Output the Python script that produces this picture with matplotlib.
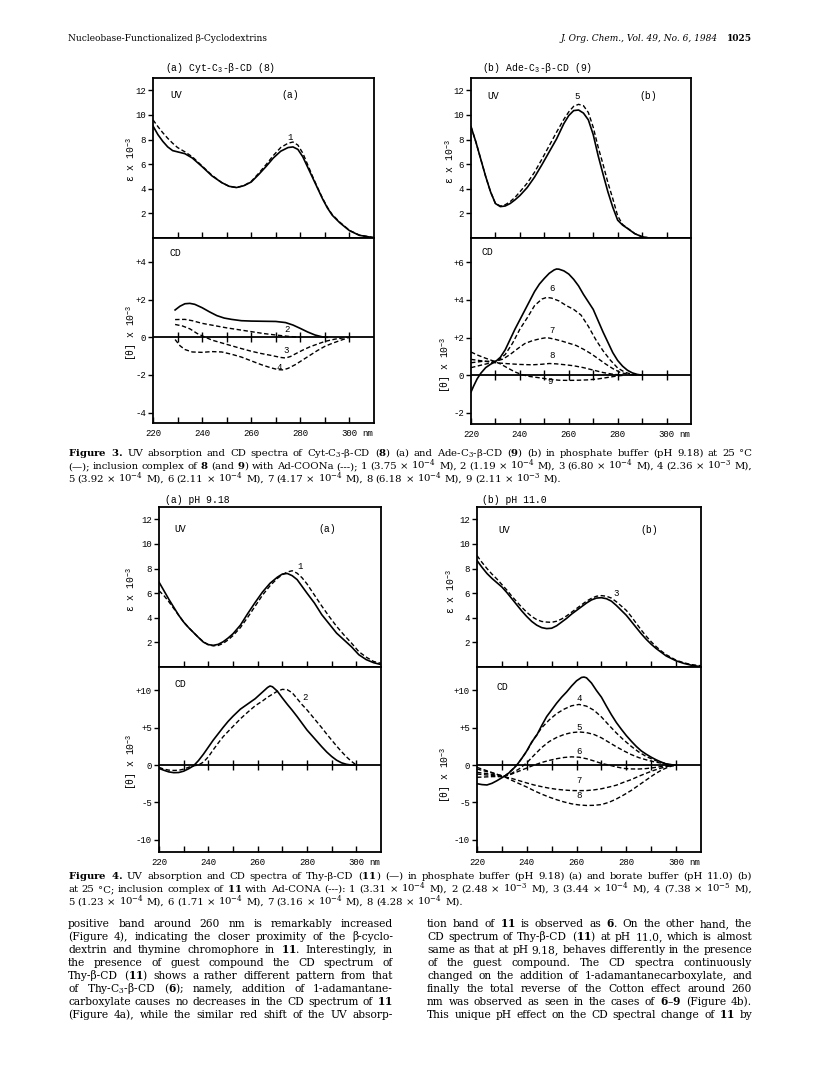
import matplotlib.pyplot as plt

W, H = 821, 1069
MONO = ['Liberation Mono', 'DejaVu Sans Mono']
SERIF = ['DejaVu Serif']

plt.rcParams['mathtext.fontset'] = 'custom'
plt.rcParams['mathtext.rm'] = 'DejaVu Serif'
plt.rcParams['mathtext.it'] = 'DejaVu Serif:italic'
plt.rcParams['mathtext.bf'] = 'DejaVu Serif:bold'
plt.rcParams['mathtext.tt'] = 'Liberation Mono'

# ---------------- data ----------------
# Figure 3a: Cyt-C3-beta-CD (8)
cyt_uv_nm = [220, 222, 224, 226, 228, 230, 233, 236, 240, 244, 248, 251, 254, 257, 260, 263, 266,
             269, 272, 275, 277, 279, 281, 283, 285, 287, 289, 291, 293, 296, 300, 304, 310]
cyt_uv_free = [9.1, 8.4, 7.85, 7.4, 7.1, 7.0, 6.85, 6.5, 5.8, 5.05, 4.5, 4.2, 4.1, 4.25, 4.55, 5.15, 5.8,
               6.5, 7.05, 7.35, 7.4, 7.2, 6.6, 5.75, 4.9, 4.05, 3.2, 2.45, 1.85, 1.25, 0.6, 0.22, 0.02]
cyt_uv_1 = [9.6, 9.05, 8.55, 8.1, 7.7, 7.35, 7.0, 6.6, 5.85, 5.1, 4.5, 4.2, 4.1, 4.25, 4.6, 5.25, 5.95,
            6.7, 7.35, 7.7, 7.8, 7.55, 6.9, 5.95, 5.0, 4.1, 3.25, 2.5, 1.9, 1.3, 0.62, 0.24, 0.03]

cyt_cd_free_nm = [229, 231, 233, 235, 237, 240, 243, 246, 249, 252, 256, 260, 265, 270, 274, 277,
                  280, 283, 286, 289, 291]
cyt_cd_free = [1.45, 1.65, 1.78, 1.8, 1.75, 1.57, 1.35, 1.15, 1.02, 0.95, 0.88, 0.86, 0.85, 0.84, 0.78,
               0.65, 0.47, 0.28, 0.12, 0.02, 0.0]
cyt_cd_2_nm = [229, 233, 236, 240, 245, 250, 255, 260, 265, 270, 275, 280]
cyt_cd_2 = [0.94, 0.95, 0.88, 0.74, 0.62, 0.5, 0.4, 0.3, 0.2, 0.12, 0.05, 0.0]
cyt_cd_3_nm = [229, 232, 235, 238, 241, 244, 248, 252, 256, 260, 264, 268, 272, 274, 276, 278, 281,
               284, 287, 290, 294, 299]
cyt_cd_3 = [0.68, 0.6, 0.45, 0.2, 0.02, -0.15, -0.3, -0.45, -0.6, -0.74, -0.86, -0.96, -1.07, -1.1,
            -1.02, -0.88, -0.68, -0.5, -0.36, -0.22, -0.1, 0.0]
cyt_cd_4_nm = [229, 231, 233, 236, 240, 244, 248, 252, 256, 260, 264, 268, 271, 273, 275, 278, 281,
               284, 287, 290, 293, 296, 300]
cyt_cd_4 = [-0.12, -0.45, -0.65, -0.78, -0.8, -0.76, -0.78, -0.9, -1.05, -1.25, -1.45, -1.62, -1.72,
            -1.73, -1.65, -1.45, -1.2, -0.95, -0.7, -0.48, -0.32, -0.18, 0.0]

# Figure 3b: Ade-C3-beta-CD (9)
ade_uv_nm = [220, 222, 224, 226, 228, 230, 232, 234, 236, 238, 240, 243, 246, 249, 252, 255, 258, 260,
             262, 264, 266, 268, 270, 272, 274, 276, 278, 280, 282, 284, 287, 290, 293, 300, 310]
ade_uv_free = [9.05, 7.8, 6.4, 5.0, 3.75, 2.8, 2.55, 2.6, 2.8, 3.1, 3.45, 4.1, 4.95, 5.95, 7.0, 8.05,
               9.3, 9.95, 10.35, 10.4, 10.15, 9.6, 8.4, 6.7, 5.2, 3.75, 2.5, 1.45, 1.05, 0.78, 0.35,
               0.1, 0.0, 0.0, 0.0]
ade_uv_5 = [9.05, 7.8, 6.4, 5.0, 3.75, 2.8, 2.6, 2.7, 2.95, 3.3, 3.75, 4.46, 5.35, 6.4, 7.5, 8.6,
            9.65, 10.25, 10.7, 10.86, 10.75, 10.2, 9.0, 7.4, 6.0, 4.5, 3.2, 1.8, 1.1, 0.8, 0.36,
            0.1, 0.0, 0.0, 0.0]

ade_cd_nm = [220, 221, 222.5, 224, 226, 228, 230, 232, 234, 236, 238, 240, 242, 244, 246, 248, 250,
             252, 254, 255, 256, 258, 260, 262, 264, 266, 268, 270, 272, 274, 276, 278, 280, 282, 284,
             286, 288, 290]
ade_cd_free = [-0.9, -0.6, -0.2, 0.1, 0.4, 0.58, 0.72, 0.95, 1.35, 1.9, 2.45, 2.95, 3.45, 3.95, 4.45,
               4.85, 5.15, 5.42, 5.6, 5.65, 5.64, 5.55, 5.38, 5.1, 4.75, 4.3, 3.9, 3.5, 2.9, 2.3, 1.75,
               1.2, 0.78, 0.48, 0.26, 0.12, 0.04, 0.0]
ade_cd_6_nm = [220, 225, 228, 231, 234, 237, 240, 243, 246, 249, 251, 253, 256, 259, 262, 265, 268,
               271, 274, 277, 280, 283, 286, 288]
ade_cd_6 = [0.4, 0.56, 0.65, 0.78, 1.1, 1.7, 2.45, 3.05, 3.7, 4.05, 4.14, 4.1, 3.95, 3.7, 3.5, 3.2,
            2.6, 1.9, 1.3, 0.8, 0.38, 0.15, 0.04, 0.0]
ade_cd_7_nm = [220, 225, 230, 233, 236, 239, 242, 245, 248, 251, 254, 257, 260, 263, 266, 269, 272,
               275, 278, 281, 284, 287]
ade_cd_7 = [0.66, 0.74, 0.74, 0.85, 1.1, 1.4, 1.68, 1.83, 1.93, 2.0, 1.92, 1.82, 1.7, 1.58, 1.38,
            1.15, 0.88, 0.6, 0.35, 0.15, 0.05, 0.0]
ade_cd_8_nm = [220, 225, 230, 235, 240, 245, 249, 252, 255, 258, 262, 266, 270, 274, 278, 282]
ade_cd_8 = [0.84, 0.75, 0.66, 0.61, 0.57, 0.55, 0.58, 0.62, 0.6, 0.56, 0.5, 0.4, 0.27, 0.14, 0.05, 0.0]
ade_cd_9_nm = [220, 223, 226, 229, 232, 235, 238, 241, 244, 248, 252, 256, 260, 264, 268, 272, 276,
               280, 283]
ade_cd_9 = [1.23, 1.05, 0.9, 0.76, 0.6, 0.38, 0.17, 0.02, -0.07, -0.14, -0.22, -0.27, -0.28, -0.27,
            -0.25, -0.2, -0.12, -0.04, 0.0]

# Figure 4a: Thy-beta-CD (11), pH 9.18
thy9_uv_nm = [220, 222, 224, 226, 228, 230, 232, 234, 236, 238, 240, 242, 244, 246, 248, 250, 253,
              256, 259, 262, 265, 268, 270, 272, 274, 276, 278, 280, 283, 286, 289, 292, 295, 298,
              301, 304, 307, 310]
thy9_uv_free = [6.9, 6.2, 5.5, 4.85, 4.2, 3.65, 3.2, 2.8, 2.4, 2.02, 1.82, 1.76, 1.84, 2.05, 2.35,
                2.7, 3.4, 4.35, 5.25, 6.1, 6.8, 7.3, 7.55, 7.6, 7.42, 7.1, 6.55, 6.0, 5.2, 4.25, 3.5,
                2.75, 2.2, 1.65, 1.0, 0.6, 0.35, 0.2]
thy9_uv_1 = [6.2, 5.8, 5.3, 4.75, 4.2, 3.65, 3.2, 2.8, 2.4, 2.05, 1.8, 1.72, 1.75, 1.92, 2.2, 2.55,
             3.2, 4.05, 4.95, 5.85, 6.6, 7.2, 7.5, 7.72, 7.82, 7.62, 7.25, 6.75, 5.85, 4.95, 4.1,
             3.3, 2.6, 1.95, 1.25, 0.8, 0.45, 0.3]

thy9_cd_nm = [220, 222, 224, 226, 228, 230, 232, 234, 236, 238, 240, 242, 244, 246, 248, 250, 253,
              256, 259, 262, 264, 265, 266, 268, 270, 272, 274, 276, 278, 280, 282, 284, 286, 288,
              290, 292, 294, 296, 298, 300]
thy9_cd_free = [-0.45, -0.7, -0.92, -1.02, -1.0, -0.82, -0.5, -0.1, 0.6, 1.45, 2.4, 3.35, 4.2, 5.05,
                5.85, 6.55, 7.5, 8.2, 8.9, 9.8, 10.4, 10.6, 10.5, 9.9, 9.0, 8.15, 7.35, 6.5, 5.6,
                4.7, 3.95, 3.2, 2.45, 1.75, 1.15, 0.65, 0.3, 0.1, 0.0, 0.0]
thy9_cd_2 = [-0.3, -0.55, -0.68, -0.72, -0.7, -0.55, -0.3, -0.1, 0.0, 0.4, 1.1, 2.05, 2.95, 3.8, 4.5,
             5.18, 6.2, 7.1, 7.95, 8.6, 9.1, 9.3, 9.5, 9.9, 10.15, 10.1, 9.7, 8.9, 8.1, 7.4, 6.6,
             5.8, 5.0, 4.15, 3.35, 2.55, 1.8, 1.1, 0.5, 0.0]

# Figure 4b: Thy-beta-CD (11), pH 11.0
thy11_uv_nm = [220, 222, 224, 226, 228, 230, 232, 234, 236, 238, 240, 242, 244, 246, 248, 250, 252,
               254, 256, 258, 260, 262, 264, 266, 268, 270, 272, 274, 276, 278, 280, 282, 284, 286,
               288, 290, 292, 294, 296, 298, 300, 303, 306, 310]
thy11_uv_free = [8.65, 8.1, 7.6, 7.2, 6.85, 6.5, 6.05, 5.55, 5.05, 4.55, 4.1, 3.7, 3.4, 3.2, 3.12,
                 3.15, 3.35, 3.65, 3.95, 4.3, 4.6, 4.9, 5.2, 5.45, 5.6, 5.63, 5.55, 5.35, 5.0, 4.6,
                 4.2, 3.7, 3.2, 2.7, 2.25, 1.85, 1.5, 1.2, 0.9, 0.7, 0.5, 0.3, 0.15, 0.02]
thy11_uv_3 = [9.05, 8.5, 8.0, 7.55, 7.15, 6.7, 6.25, 5.75, 5.3, 4.85, 4.45, 4.1, 3.85, 3.7, 3.65,
              3.63, 3.72, 3.9, 4.15, 4.45, 4.75, 5.05, 5.35, 5.58, 5.75, 5.8, 5.75, 5.6, 5.3, 4.95,
              4.6, 4.1, 3.55, 3.0, 2.5, 2.05, 1.65, 1.3, 1.0, 0.78, 0.55, 0.35, 0.2, 0.1]

thy11_cd_nm = [220, 222, 224, 226, 228, 230, 232, 234, 236, 238, 240, 242, 244, 246, 248, 250, 252,
               254, 256, 258, 260, 262, 263, 264, 266, 268, 270, 272, 274, 276, 278, 280, 282, 284,
               286, 288, 290, 292, 294, 296, 298, 300]
thy11_cd_free = [-2.5, -2.62, -2.67, -2.45, -2.1, -1.7, -1.3, -0.7, 0.0, 0.9, 1.9, 3.1, 4.0, 5.3,
                 6.5, 7.4, 8.3, 9.1, 9.8, 10.6, 11.3, 11.75, 11.8, 11.7, 11.0, 10.0, 9.1, 7.9, 6.75,
                 5.7, 4.8, 3.95, 3.2, 2.5, 1.9, 1.45, 1.05, 0.7, 0.4, 0.15, 0.03, 0.0]
thy11_cd_4_nm = [220, 223, 226, 229, 231, 233, 236, 238, 240, 243, 246, 249, 252, 255, 258, 261, 264,
                 267, 270, 273, 276, 279, 282, 285, 288, 291, 294, 297, 299]
thy11_cd_4 = [-0.98, -1.1, -1.25, -1.45, -1.5, -0.95, 0.0, 0.9, 1.85, 3.6, 5.0, 6.05, 6.9, 7.5,
              7.95, 8.13, 7.9, 7.35, 6.45, 5.35, 4.3, 3.35, 2.5, 1.75, 1.15, 0.7, 0.35, 0.1, 0.0]
thy11_cd_nm2 = [220, 223, 226, 229, 231, 234, 237, 240, 243, 246, 249, 252, 255, 258, 261, 264, 267,
                270, 273, 276, 279, 282, 285, 288, 291, 294, 297, 300]
thy11_cd_5 = [-0.53, -0.8, -1.05, -1.35, -1.5, -1.1, -0.5, 0.3, 1.35, 2.35, 3.15, 3.7, 4.1, 4.35,
              4.44, 4.35, 4.1, 3.65, 3.05, 2.45, 1.9, 1.4, 1.0, 0.7, 0.45, 0.25, 0.1, 0.0]
thy11_cd_6 = [-0.31, -0.65, -1.0, -1.35, -1.5, -1.2, -0.8, -0.4, 0.0, 0.35, 0.62, 0.85, 1.02, 1.1,
              1.05, 0.85, 0.55, 0.22, 0.0, -0.25, -0.45, -0.52, -0.53, -0.47, -0.35, -0.2, -0.08, 0.0]
thy11_cd_7 = [-1.2, -1.3, -1.4, -1.5, -1.57, -1.8, -2.1, -2.4, -2.68, -2.9, -3.1, -3.25, -3.35,
              -3.42, -3.43, -3.42, -3.33, -3.18, -2.95, -2.7, -2.3, -1.95, -1.5, -1.1, -0.72, -0.4,
              -0.15, 0.0]
thy11_cd_8 = [-1.64, -1.6, -1.55, -1.55, -1.58, -2.05, -2.5, -2.95, -3.45, -3.9, -4.3, -4.65, -4.95,
              -5.2, -5.35, -5.42, -5.4, -5.3, -5.0, -4.55, -4.0, -3.4, -2.7, -2.0, -1.3, -0.7, -0.25,
              0.0]

nm_ticks = [220, 240, 260, 280, 300]
nm_minor = [230, 250, 270, 290]
zero_marks = [230, 240, 250, 260, 270, 280, 290, 300]
uv_ticks = [2, 4, 6, 8, 10, 12]

# ---------------- page text ----------------
cap3 = [
    r"$\mathbf{Figure}$ $\mathbf{3.}$ UV absorption and CD spectra of Cyt-C$_3$-β-CD ($\mathbf{8}$) (a) and "
    r"Ade-C$_3$-β-CD ($\mathbf{9}$) (b) in phosphate buffer (pH 9.18) at 25 °C",
    r"(—); inclusion complex of $\mathbf{8}$ (and $\mathbf{9}$) with Ad-COONa (---); "
    r"1 (3.75 × 10$^{-4}$ M), 2 (1.19 × 10$^{-4}$ M), 3 (6.80 × 10$^{-4}$ M), 4 (2.36 × 10$^{-3}$ M),",
    r"5 (3.92 × 10$^{-4}$ M), 6 (2.11 × 10$^{-4}$ M), 7 (4.17 × 10$^{-4}$ M), 8 (6.18 × 10$^{-4}$ M), "
    r"9 (2.11 × 10$^{-3}$ M).",
]
cap4 = [
    r"$\mathbf{Figure}$ $\mathbf{4.}$ UV absorption and CD spectra of Thy-β-CD ($\mathbf{11}$) (—) in phosphate "
    r"buffer (pH 9.18) (a) and borate buffer (pH 11.0) (b)",
    r"at 25 °C; inclusion complex of $\mathbf{11}$ with Ad-CONA (---): 1 (3.31 × 10$^{-4}$ M), "
    r"2 (2.48 × 10$^{-3}$ M), 3 (3.44 × 10$^{-4}$ M), 4 (7.38 × 10$^{-5}$ M),",
    r"5 (1.23 × 10$^{-4}$ M), 6 (1.71 × 10$^{-4}$ M), 7 (3.16 × 10$^{-4}$ M), 8 (4.28 × 10$^{-4}$ M).",
]
body_left = [
    r"positive band around 260 nm is remarkably increased",
    r"(Figure 4), indicating the closer proximity of the β-cyclo-",
    r"dextrin and thymine chromophore in $\mathbf{11}$. Interestingly, in",
    r"the presence of guest compound the CD spectrum of",
    r"Thy-β-CD ($\mathbf{11}$) shows a rather different pattern from that",
    r"of Thy-C$_3$-β-CD ($\mathbf{6}$); namely, addition of 1-adamantane-",
    r"carboxylate causes no decreases in the CD spectrum of $\mathbf{11}$",
    r"(Figure 4a), while the similar red shift of the UV absorp-",
]
body_right = [
    r"tion band of $\mathbf{11}$ is observed as $\mathbf{6}$. On the other hand, the",
    r"CD spectrum of Thy-β-CD ($\mathbf{11}$) at pH 11.0, which is almost",
    r"same as that at pH 9.18, behaves differently in the presence",
    r"of the guest compound. The CD spectra continuously",
    r"changed on the addition of 1-adamantanecarboxylate, and",
    r"finally the total reverse of the Cotton effect around 260",
    r"nm was observed as seen in the cases of $\mathbf{6}$–$\mathbf{9}$ (Figure 4b).",
    r"This unique pH effect on the CD spectral change of $\mathbf{11}$ by",
]
head_left = 'Nucleobase-Functionalized β-Cyclodextrins'
head_right = 'J. Org. Chem., Vol. 49, No. 6, 1984'
head_page = '1025'

fig = plt.figure(figsize=(W / 100, H / 100), dpi=100)
rend = fig.canvas.get_renderer()


def measure(s, size, **kw):
    t = fig.text(0, 0, s, fontsize=size, family=SERIF, **kw)
    w = t.get_window_extent(rend).width
    t.remove()
    return w


def fit_size(lines, width):
    # font size so that the densest line just fits with plain spaces
    return min(10 * width / measure(s, 10) for s in lines)


def set_block(lines, x0, x1, y0, step, size, last_free=True):
    for i, s in enumerate(lines):
        words = s.split(' ')
        y = 1 - (y0 + i * step) / H
        free = last_free and i == len(lines) - 1
        widths = [measure(w, size) for w in words]
        gap = size * 100 / 72 * 0.3 if free else (x1 - x0 - sum(widths)) / (len(words) - 1)
        x = x0
        for w, wd in zip(words, widths):
            fig.text(x / W, y, w, fontsize=size, family=SERIF, va='baseline')
            x += wd + gap


def panel(x0, x1, ytop, ymid, ybot, cd_lim, cd_ticks, cd_labels):
    uv = fig.add_axes([x0 / W, 1 - ymid / H, (x1 - x0) / W, (ymid - ytop) / H])
    cd = fig.add_axes([x0 / W, 1 - ybot / H, (x1 - x0) / W, (ybot - ymid) / H])
    for ax in (uv, cd):
        ax.set_xlim(220, 310)
        for s in ax.spines.values():
            s.set_linewidth(1.3)
        ax.tick_params(axis='y', direction='out', length=3.5, width=1, pad=1.5, labelsize=6.5)
    uv.set_ylim(0, 13)
    uv.set_yticks(uv_ticks)
    uv.set_yticklabels([str(v) for v in uv_ticks], family=MONO)
    uv.set_xticks(zero_marks)
    uv.set_xticklabels([])
    uv.tick_params(axis='x', direction='in', length=4, width=1)
    cd.set_ylim(*cd_lim)
    cd.set_yticks(cd_ticks)
    cd.set_yticklabels(cd_labels, family=MONO)
    cd.set_xticks(nm_ticks)
    cd.set_xticklabels([str(v) for v in nm_ticks], family=MONO)
    cd.set_xticks(nm_minor, minor=True)
    cd.tick_params(axis='x', which='both', direction='in', length=4, width=1, pad=4, labelsize=6.5)
    cd.axhline(0, color='k', lw=1.3)
    cd.plot(zero_marks, [0] * len(zero_marks), ls='none', marker='|', ms=7, mew=1, color='k')
    cd.annotate('nm', xy=(307.5, 0), xycoords=cd.get_xaxis_transform(), xytext=(0, -4),
                textcoords='offset points', ha='center', va='top', fontsize=6.5, family=MONO)
    return uv, cd


SOLID = dict(color='k', lw=1.2)
DASH = dict(color='k', lw=1.0, ls=(0, (3.2, 1.8)))
NUM = dict(fontsize=6.5, family=MONO, ha='center', va='center')
LAB = dict(fontsize=7, family=MONO, ha='center', va='center')


def ylabels(xu, yu, xc, yc):
    fig.text(xu / W, 1 - yu / H, r'ε x 10$^{\mathtt{-3}}$', rotation=90, fontsize=7, family=MONO,
             ha='center', va='center')
    fig.text(xc / W, 1 - yc / H, r'[θ] x 10$^{\mathtt{-3}}$', rotation=90, fontsize=7, family=MONO,
             ha='center', va='center')


# ---------------- Figure 3 ----------------
uv, cd = panel(153, 374, 78, 238, 423, (-4.55, 5.27), [4, 2, 0, -2, -4], ['+4', '+2', '0', '-2', '-4'])
uv.plot(cyt_uv_nm, cyt_uv_free, **SOLID)
uv.plot(cyt_uv_nm, cyt_uv_1, **DASH)
uv.text(276, 8.2, '1', **NUM)
uv.text(229.5, 11.6, 'UV', **LAB)
uv.text(276, 11.6, '(a)', **LAB)
cd.plot(cyt_cd_free_nm, cyt_cd_free, **SOLID)
cd.plot(cyt_cd_2_nm, cyt_cd_2, **DASH)
cd.plot(cyt_cd_3_nm, cyt_cd_3, **DASH)
cd.plot(cyt_cd_4_nm, cyt_cd_4, **DASH)
cd.text(274.5, 0.42, '2', **NUM)
cd.text(274, -0.72, '3', **NUM)
cd.text(271.5, -1.58, '4', **NUM)
cd.text(229, 4.5, 'CD', **LAB)
fig.text(165 / W, 1 - 68 / H, r'(a) Cyt-C$_{\mathtt{3}}$-β-CD (8)', fontsize=7, family=MONO, va='center')
ylabels(131, 160, 132, 333)

uv, cd = panel(471, 691, 78, 238, 424, (-2.6, 7.3), [6, 4, 2, 0, -2], ['+6', '+4', '+2', '0', '-2'])
uv.plot(ade_uv_nm, ade_uv_free, **SOLID)
uv.plot(ade_uv_nm, ade_uv_5, **DASH)
uv.text(263.5, 11.5, '5', **NUM)
uv.text(229, 11.5, 'UV', **LAB)
uv.text(292.5, 11.5, '(b)', **LAB)
cd.plot(ade_cd_nm, ade_cd_free, **SOLID)
cd.plot(ade_cd_6_nm, ade_cd_6, **DASH)
cd.plot(ade_cd_7_nm, ade_cd_7, **DASH)
cd.plot(ade_cd_8_nm, ade_cd_8, **DASH)
cd.plot(ade_cd_9_nm, ade_cd_9, **DASH)
cd.text(253, 4.6, '6', **NUM)
cd.text(253, 2.4, '7', **NUM)
cd.text(253, 1.05, '8', **NUM)
cd.text(252.5, -0.32, '9', **NUM)
cd.text(226.5, 6.55, 'CD', **LAB)
fig.text(482 / W, 1 - 68 / H, r'(b) Ade-C$_{\mathtt{3}}$-β-CD (9)', fontsize=7, family=MONO, va='center')
ylabels(450, 162, 446, 365)

# ---------------- Figure 4 ----------------
uv, cd = panel(159, 381, 507, 667, 852, (-11.66, 13.15), [10, 5, 0, -5, -10],
               ['+10', '+5', '0', '-5', '-10'])
uv.plot(thy9_uv_nm, thy9_uv_free, **SOLID)
uv.plot(thy9_uv_nm, thy9_uv_1, **DASH)
uv.text(277, 8.2, '1', **NUM)
uv.text(228.5, 11.2, 'UV', **LAB)
uv.text(288, 11.2, '(a)', **LAB)
cd.plot(thy9_cd_nm, thy9_cd_free, **SOLID)
cd.plot(thy9_cd_nm, thy9_cd_2, **DASH)
cd.text(279, 9.1, '2', **NUM)
cd.text(228.5, 10.9, 'CD', **LAB)
fig.text(165 / W, 1 - 500 / H, '(a) pH 9.18', fontsize=7, family=MONO, va='center')
ylabels(131, 590, 132, 762)

uv, cd = panel(477, 701, 507, 667, 852, (-11.66, 13.15), [10, 5, 0, -5, -10],
               ['+10', '+5', '0', '-5', '-10'])
uv.plot(thy11_uv_nm, thy11_uv_free, **SOLID)
uv.plot(thy11_uv_nm, thy11_uv_3, **DASH)
uv.text(276, 6.0, '3', **NUM)
uv.text(231, 11.1, 'UV', **LAB)
uv.text(289, 11.1, '(b)', **LAB)
cd.plot(thy11_cd_nm, thy11_cd_free, **SOLID)
cd.plot(thy11_cd_4_nm, thy11_cd_4, **DASH)
cd.plot(thy11_cd_nm2, thy11_cd_5, **DASH)
cd.plot(thy11_cd_nm2, thy11_cd_6, **DASH)
cd.plot(thy11_cd_nm2, thy11_cd_7, **DASH)
cd.plot(thy11_cd_nm2, thy11_cd_8, **DASH)
cd.text(261, 8.9, '4', **NUM)
cd.text(261, 5.0, '5', **NUM)
cd.text(261, 1.85, '6', **NUM)
cd.text(261, -2.1, '7', **NUM)
cd.text(261, -4.1, '8', **NUM)
cd.text(230, 10.45, 'CD', **LAB)
fig.text(482 / W, 1 - 500 / H, '(b) pH 11.0', fontsize=7, family=MONO, va='center')
ylabels(451, 592, 446, 775)

# ---------------- running head, captions, body ----------------
head_size = min(8.5, 10 * 200 / measure(head_left, 10))
fig.text(68 / W, 1 - 41 / H, head_left, fontsize=head_size, family=SERIF, va='baseline')
page_w = measure(head_page, head_size, weight='bold')
fig.text(752 / W, 1 - 41 / H, head_page, fontsize=head_size, family=SERIF, weight='bold',
         ha='right', va='baseline')
fig.text((752 - page_w - 9) / W, 1 - 41 / H, head_right, fontsize=head_size,
         family=SERIF, style='italic', ha='right', va='baseline')

cap_size = min(8.9, fit_size(cap3[:2], 684), fit_size(cap4[:2], 684))
set_block(cap3, 68, 752, 456, 13, cap_size)
set_block(cap4, 68, 752, 879, 13, cap_size)
body_size = min(9.2, fit_size(body_left, 325), fit_size(body_right, 325))
set_block(body_left, 68, 393, 927, 13, body_size, last_free=False)
set_block(body_right, 427, 752, 927, 13, body_size, last_free=False)

fig.savefig('out.png', dpi=100)
